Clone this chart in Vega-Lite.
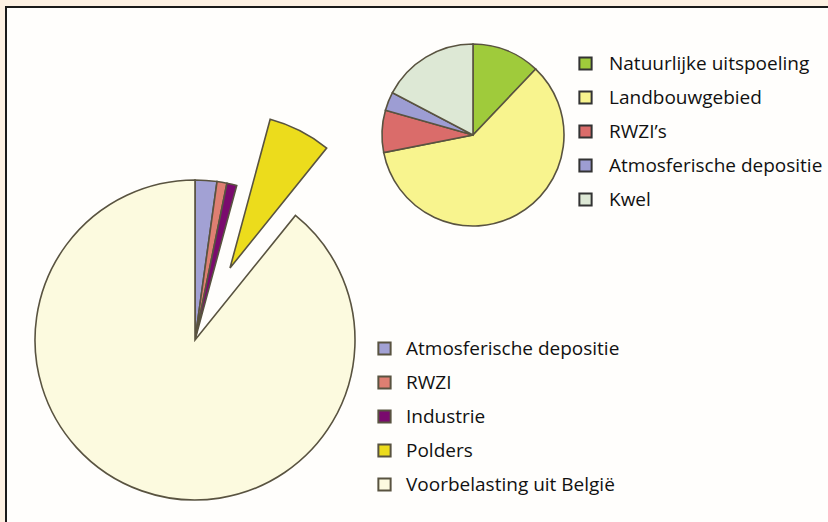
{
  "$schema": "https://vega.github.io/schema/vega-lite/v6.json",
  "width": 828,
  "height": 522,
  "autosize": {"type": "fit", "contains": "padding"},
  "padding": {"left": 6, "top": 7, "right": -2, "bottom": -2},
  "background": "#fdf1e3",
  "config": {
    "view": {"fill": "#fffefc", "stroke": "#1a1a1a", "strokeWidth": 2},
    "font": "Open Sans"
  },
  "data": {
    "values": [
      {"diagram": "Klein", "volgorde": 1, "bron": "Natuurlijke uitspoeling", "waarde": 12.1},
      {"diagram": "Klein", "volgorde": 2, "bron": "Landbouwgebied", "waarde": 59.8},
      {"diagram": "Klein", "volgorde": 3, "bron": "RWZI’s", "waarde": 7.5},
      {"diagram": "Klein", "volgorde": 4, "bron": "Atmosferische depositie", "waarde": 3.3},
      {"diagram": "Klein", "volgorde": 5, "bron": "Kwel", "waarde": 17.3},
      {"diagram": "Groot", "volgorde": 1, "bron": "Atmosferische depositie", "waarde": 2.2},
      {"diagram": "Groot", "volgorde": 2, "bron": "RWZI", "waarde": 1.0},
      {"diagram": "Groot", "volgorde": 3, "bron": "Industrie", "waarde": 1.0},
      {"diagram": "Groot", "volgorde": 4, "bron": "Polders", "waarde": 6.6},
      {"diagram": "Groot", "volgorde": 5, "bron": "Voorbelasting uit België", "waarde": 89.2}
    ]
  },
  "transform": [
    {"stack": "waarde", "groupby": ["diagram"], "sort": [{"field": "volgorde"}], "as": ["v0", "v1"]}
  ],
  "encoding": {
    "x": {"field": "diagram", "type": "nominal", "scale": {"type": "point", "domain": ["Groot", "Klein"], "range": [189, 467], "padding": 0}, "axis": null},
    "y": {"field": "diagram", "type": "nominal", "scale": {"type": "point", "domain": ["Groot", "Klein"], "range": [333, 128], "padding": 0}, "axis": null},
    "theta": {"field": "v0", "type": "quantitative", "scale": {"domain": [0, 100]}},
    "theta2": {"field": "v1"}
  },
  "layer": [
    {
      "transform": [{"filter": "datum.diagram === 'Klein'"}],
      "mark": {"type": "arc", "outerRadius": 91, "stroke": "#595340", "strokeWidth": 1.6},
      "encoding": {
        "color": {
          "field": "bron", "type": "nominal",
          "scale": {
            "domain": ["Natuurlijke uitspoeling", "Landbouwgebied", "RWZI’s", "Atmosferische depositie", "Kwel"],
            "range": ["#9fcb3b", "#f8f48e", "#da6c6a", "#9d9dd3", "#dde8d5"]
          },
          "legend": {
            "orient": "none", "legendX": 570, "legendY": 47, "title": null,
            "symbolType": "square", "symbolSize": 150, "symbolStrokeColor": "#333333", "symbolStrokeWidth": 2,
            "labelFontSize": 19, "labelFont": "Open Sans", "labelColor": "#111111", "labelOffset": 14, "labelLimit": 0, "rowPadding": 13, "padding": 0
          }
        }
      }
    },
    {
      "transform": [{"filter": "datum.diagram === 'Groot' && datum.bron !== 'Polders'"}],
      "mark": {"type": "arc", "outerRadius": 160, "stroke": "#595340", "strokeWidth": 1.6},
      "encoding": {
        "fill": {
          "field": "bron", "type": "nominal",
          "scale": {
            "domain": ["Atmosferische depositie", "RWZI", "Industrie", "Polders", "Voorbelasting uit België"],
            "range": ["#a2a1d4", "#df7f72", "#7a0a6e", "#ecdc1c", "#fcfadf"]
          },
          "legend": {
            "orient": "none", "legendX": 369, "legendY": 332, "title": null,
            "symbolType": "square", "symbolSize": 150, "symbolStrokeColor": "#333333", "symbolStrokeWidth": 2,
            "labelFontSize": 19, "labelFont": "Open Sans", "labelColor": "#111111", "labelOffset": 12, "labelLimit": 0, "rowPadding": 13, "padding": 0
          }
        }
      }
    },
    {
      "transform": [{"filter": "datum.bron === 'Polders'"}],
      "mark": {"type": "arc", "outerRadius": 154, "stroke": "#595340", "strokeWidth": 1.6, "xOffset": 35, "yOffset": -72},
      "encoding": {
        "fill": {"field": "bron", "type": "nominal"}
      }
    }
  ]
}
